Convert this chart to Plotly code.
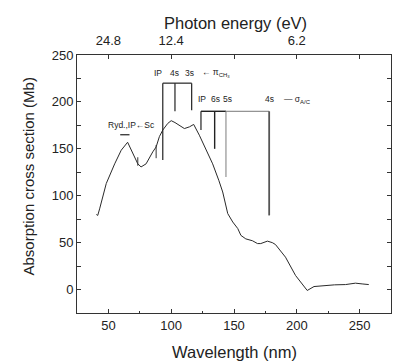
import plotly.graph_objects as go

# --- data ---
wavelength_nm = [40.4, 41.5, 43, 47, 48.3, 55, 60.2, 65.3, 69.4, 73.4, 76, 80, 85.3, 88, 90.6,
                 93.3, 97.2, 100, 103, 106.5, 110.5, 114.5, 117.9, 122.4, 127.7, 133, 138, 141,
                 145, 149, 153, 155.5, 159.4, 164.7, 168.7, 171.3, 176.6, 180.5, 183, 191, 199,
                 207, 208.3, 213.7, 221.6, 230, 238.8, 246.7, 252, 257.3]
cross_section_mb = [80, 79, 86, 109, 113, 134, 148.5, 157, 145, 134, 130.7, 134, 146.7, 152, 163,
                    170, 177, 180, 178, 175, 171.6, 173.4, 176, 164.5, 148.5, 134, 116, 104,
                    81, 72, 65, 57.7, 54, 52, 49, 49, 51.6, 50, 48, 34.5, 15,
                    0.7, -1, 3.2, 4.3, 5, 5.3, 6.8, 6, 5.3]

# small vertical marks on the curve
mark_nm = [73.4, 88]
mark_lo = [132, 140]
mark_hi = [141, 154]

# pi_CH3 series (IP, 4s, 3s)
g1_nm = [93.3, 103, 116.3]
g1_top = 220
g1_bottom = [138, 190, 191]
g1_labels = ["IP", "4s", "3s"]
g1_label_nm = [89.3, 102.5, 114.5]

# sigma_A/C series (IP, 6s, 5s, 4s)
g2_nm = [123.7, 134.6, 143.6, 178]
g2_top = 190
g2_bottom = [170, 150, 120, 79]
g2_labels = ["IP", "6s", "5s", "4s"]
g2_label_nm = [124.5, 135, 144.6, 178]

# top axis: photon energy
energy_tick_nm = [50, 100, 150, 200, 250]
energy_tick_text = ["24.8", "12.4", "", "6.2", ""]

fig = go.Figure()

fig.add_trace(go.Scatter(x=wavelength_nm, y=cross_section_mb, mode="lines",
                         line=dict(color="#2a2a2a", width=1), showlegend=False))

for xn, lo, hi in zip(mark_nm, mark_lo, mark_hi):
    fig.add_trace(go.Scatter(x=[xn, xn], y=[lo, hi], mode="lines",
                             line=dict(color="#333", width=1), showlegend=False))

# group 1 bracket
fig.add_trace(go.Scatter(x=[g1_nm[0], g1_nm[-1]], y=[g1_top, g1_top], mode="lines",
                         line=dict(color="#222", width=1.2), showlegend=False))
for xn, b in zip(g1_nm, g1_bottom):
    fig.add_trace(go.Scatter(x=[xn, xn], y=[g1_top, b], mode="lines",
                             line=dict(color="#222", width=1.2), showlegend=False))

# group 2 bracket
fig.add_trace(go.Scatter(x=[g2_nm[0], g2_nm[2]], y=[g2_top, g2_top], mode="lines",
                         line=dict(color="#222", width=1.4), showlegend=False))
fig.add_trace(go.Scatter(x=[g2_nm[2], g2_nm[-1]], y=[g2_top, g2_top], mode="lines",
                         line=dict(color="#777", width=1), showlegend=False))
g2_colors = ["#222", "#222", "#888", "#555"]
g2_widths = [1.2, 1.4, 1.1, 1.8]
for xn, b, c, w in zip(g2_nm, g2_bottom, g2_colors, g2_widths):
    fig.add_trace(go.Scatter(x=[xn, xn], y=[g2_top, b], mode="lines",
                             line=dict(color=c, width=w), showlegend=False))

# Rydberg bar
fig.add_trace(go.Scatter(x=[59.4, 66.8], y=[165, 165], mode="lines",
                         line=dict(color="#222", width=1.2), showlegend=False))

# invisible trace for top axis
fig.add_trace(go.Scatter(x=[25, 275], y=[None, None], xaxis="x2", mode="lines",
                         showlegend=False, hoverinfo="skip"))

lab_font = dict(family="Liberation Sans, Arial", size=8.5, color="#222")
ann = []
for t, xn in zip(g1_labels, g1_label_nm):
    ann.append(dict(x=xn, y=231, text=t, showarrow=False, font=lab_font))
ann.append(dict(x=123, y=231, text="\u2190 \u03c0<sub>CH<sub>3</sub></sub>", showarrow=False,
                font=lab_font, xanchor="left"))
for t, xn in zip(g2_labels, g2_label_nm):
    ann.append(dict(x=xn, y=203, text=t, showarrow=False, font=lab_font))
ann.append(dict(x=188, y=203, text="\u2014 \u03c3<sub>A/C</sub>", showarrow=False,
                font=lab_font, xanchor="left"))
ann.append(dict(x=68.5, y=175, text="Ryd.,IP\u2190Sc", showarrow=False, font=lab_font))
for a in ann:
    a["xref"] = "x"
    a["yref"] = "y"

xtitle_font = dict(family="Liberation Sans, Arial", size=16.5, color="#222")
ytitle_font = dict(family="Liberation Sans, Arial", size=15, color="#222")
ann.append(dict(xref="paper", yref="paper", x=0.5, y=-0.150, text="Wavelength (nm)",
                showarrow=False, font=xtitle_font, xanchor="center", yanchor="middle"))
ann.append(dict(xref="paper", yref="paper", x=0.505, y=1.125, text="Photon energy (eV)",
                showarrow=False, font=xtitle_font, xanchor="center", yanchor="middle"))
ann.append(dict(xref="paper", yref="paper", x=-0.153, y=0.529,
                text="Absorption cross section (Mb)", textangle=-90,
                showarrow=False, font=ytitle_font, xanchor="center", yanchor="middle"))

axis_font = dict(family="Liberation Sans, Arial", size=13, color="#222")

# page body has an 8px margin, so the figure is sized to fit the 400x364 window
fig.update_layout(
    width=392, height=356,
    margin=dict(l=69, r=9, t=47, b=51, autoexpand=False),
    paper_bgcolor="white", plot_bgcolor="white",
    annotations=ann,
    xaxis=dict(range=[25, 275], tickvals=[50, 100, 150, 200, 250], ticks="inside", ticklen=4,
               showline=True, linecolor="#333", linewidth=1, showgrid=False, zeroline=False,
               automargin=False, tickfont=axis_font,
               minor=dict(dtick=25, tick0=25, ticks="inside", ticklen=2, tickcolor="#333"),
               tickcolor="#333"),
    xaxis2=dict(range=[25, 275], overlaying="x", side="top", tickvals=energy_tick_nm,
                ticktext=energy_tick_text, ticks="inside", ticklen=4, showline=True,
                linecolor="#333", linewidth=1, showgrid=False, zeroline=False,
                automargin=False, tickfont=axis_font, ticklabelstandoff=4,
                tickcolor="#333"),
    yaxis=dict(range=[-25, 250], tickvals=[0, 50, 100, 150, 200, 250], ticks="inside", ticklen=4,
               showline=True, linecolor="#333", linewidth=1, mirror="allticks", showgrid=False,
               zeroline=False, automargin=False, tickfont=axis_font,
               minor=dict(dtick=25, tick0=0, ticks="inside", ticklen=2, tickcolor="#333"),
               tickcolor="#333"),
)

fig.write_html("out.html")
